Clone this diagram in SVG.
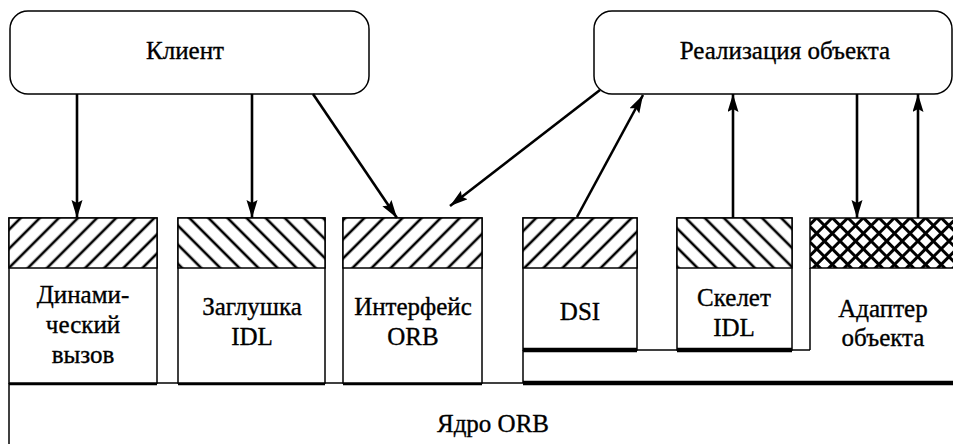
<svg xmlns="http://www.w3.org/2000/svg" width="953" height="444" viewBox="0 0 953 444" font-family="Liberation Serif, Times New Roman, serif">
<style>
.box{fill:#fff;stroke:#000;stroke-width:1.5}
.ln{fill:none;stroke:#000;stroke-width:1.5}
.thick{fill:none;stroke:#000;stroke-width:4.5}
.t{font-size:25px;fill:#000;stroke:#000;stroke-width:0.35;text-anchor:middle}
.arr{fill:none;stroke:#000;stroke-width:2.6;marker-end:url(#ah)}
</style>
<defs>
<marker id="ah" markerUnits="userSpaceOnUse" markerWidth="20" markerHeight="12" refX="18" refY="5.5" orient="auto">
<path d="M0,0 L18,5.5 L0,11 L3,5.5 z" fill="#000"/>
</marker>
<pattern id="fw" patternUnits="userSpaceOnUse" width="13.5" height="13.5" patternTransform="rotate(45)">
<rect width="13.5" height="13.5" fill="#fff"/>
<line x1="6.75" y1="0" x2="6.75" y2="13.5" stroke="#000" stroke-width="2.6"/>
</pattern>
<pattern id="bw" patternUnits="userSpaceOnUse" width="13.5" height="13.5" patternTransform="rotate(-45)">
<rect width="13.5" height="13.5" fill="#fff"/>
<line x1="6.75" y1="0" x2="6.75" y2="13.5" stroke="#000" stroke-width="2.6"/>
</pattern>
<pattern id="cx" patternUnits="userSpaceOnUse" width="11" height="11" patternTransform="rotate(45)">
<rect width="11" height="11" fill="#fff"/>
<line x1="5.5" y1="0" x2="5.5" y2="11" stroke="#000" stroke-width="3"/>
<line x1="0" y1="5.5" x2="11" y2="5.5" stroke="#000" stroke-width="3"/>
</pattern>
</defs>

<g id="client">
<rect class="box" x="10" y="11" width="359" height="83" rx="18"/>
<text class="t" x="185" y="59" font-family="Liberation Serif, serif">Клиент</text>
</g>

<g id="impl">
<rect class="box" x="594" y="11" width="358" height="83" rx="18"/>
<text class="t" x="785" y="59" font-family="Liberation Serif, serif">Реализация объекта</text>
</g>

<g id="core">
<path class="ln" d="M9,383 V444"/>
<path class="ln" d="M9,383 H953"/>
<path class="thick" d="M9,383 H157 M178,383 H325 M343,383 H482 M523,383 H953"/>
<text class="t" x="493" y="432" font-family="Liberation Serif, serif">Ядро ORB</text>
</g>

<g id="dyn">
<rect class="box" x="9" y="218" width="148" height="165"/>
<rect x="9" y="218" width="148" height="50" fill="url(#fw)" stroke="#000" stroke-width="1.5"/>
<text class="t" x="83" y="303" font-family="Liberation Serif, serif">Динами-</text>
<text class="t" x="83" y="333" font-family="Liberation Serif, serif">ческий</text>
<text class="t" x="83" y="363" font-family="Liberation Serif, serif">вызов</text>
</g>

<g id="stub">
<rect class="box" x="178" y="218" width="147" height="165"/>
<rect x="178" y="218" width="147" height="50" fill="url(#bw)" stroke="#000" stroke-width="1.5"/>
<text class="t" x="252" y="315" font-family="Liberation Serif, serif">Заглушка</text>
<text class="t" x="252" y="345" font-family="Liberation Serif, serif">IDL</text>
</g>

<g id="orbif">
<rect class="box" x="343" y="218" width="139" height="165"/>
<rect x="343" y="218" width="139" height="50" fill="url(#fw)" stroke="#000" stroke-width="1.5"/>
<text class="t" x="413" y="315" font-family="Liberation Serif, serif">Интерфейс</text>
<text class="t" x="413" y="345" font-family="Liberation Serif, serif">ORB</text>
</g>

<g id="dsi">
<rect class="box" x="523" y="218" width="114" height="132"/>
<rect x="523" y="218" width="114" height="50" fill="url(#fw)" stroke="#000" stroke-width="1.5"/>
<path class="ln" d="M523,350 V383"/>
<path class="thick" d="M523,350 H637"/>
<text class="t" x="580" y="320" font-family="Liberation Serif, serif">DSI</text>
</g>

<g id="skel">
<rect class="box" x="677" y="218" width="115" height="132"/>
<rect x="677" y="218" width="115" height="50" fill="url(#bw)" stroke="#000" stroke-width="1.5"/>
<path class="thick" d="M677,350 H792"/>
<text class="t" x="734" y="306" font-family="Liberation Serif, serif">Скелет</text>
<text class="t" x="734" y="336" font-family="Liberation Serif, serif">IDL</text>
</g>

<g id="adapter">
<rect x="810" y="218" width="145" height="50" fill="url(#cx)" stroke="#000" stroke-width="1.5"/>
<path class="ln" d="M810,268 V350"/>
<text class="t" x="883" y="317" font-family="Liberation Serif, serif">Адаптер</text>
<text class="t" x="883" y="346" font-family="Liberation Serif, serif">объекта</text>
</g>

<g id="connectors">
<path class="ln" d="M637,350 H677 M792,350 H810"/>
<line class="arr" x1="77" y1="94" x2="77" y2="218"/>
<line class="arr" x1="252" y1="94" x2="252" y2="218"/>
<line class="arr" x1="313" y1="94" x2="397" y2="218"/>
<line class="arr" x1="600" y1="90" x2="450" y2="206"/>
<line class="arr" x1="577" y1="217" x2="643" y2="95"/>
<line class="arr" x1="733" y1="218" x2="733" y2="94"/>
<line class="arr" x1="857" y1="94" x2="857" y2="218"/>
<line class="arr" x1="918" y1="218" x2="918" y2="94"/>
</g>
</svg>
